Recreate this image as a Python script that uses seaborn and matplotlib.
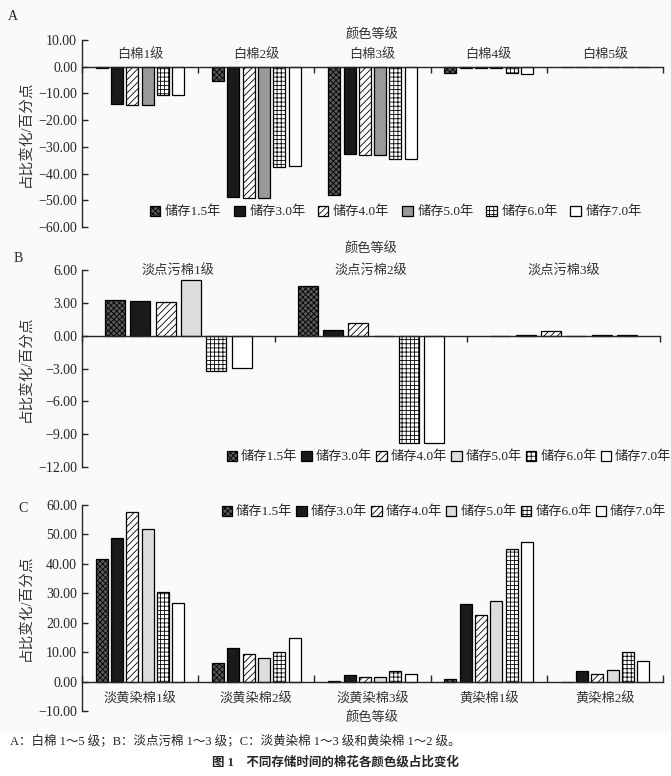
import pandas as pd
import matplotlib
matplotlib.use("Agg")
import matplotlib.pyplot as plt
import matplotlib.ticker as mticker
from matplotlib.patches import Rectangle
import seaborn as sns

# 数据
years = ['储存1.5年', '储存3.0年', '储存4.0年', '储存5.0年', '储存6.0年', '储存7.0年']

white_grades = ['白棉1级', '白棉2级', '白棉3级', '白棉4级', '白棉5级']
# 每一行对应一个存储年限
white_vals = [
    [-0.5, -5.5, -48.0, -2.2, 0.0],
    [-14.1, -48.7, -32.6, -0.5, 0.0],
    [-14.4, -49.2, -33.2, -0.5, 0.0],
    [-14.2, -49.2, -33.2, -0.5, 0.0],
    [-10.5, -37.6, -34.7, -2.5, 0.0],
    [-10.5, -37.3, -34.7, -2.9, 0.0],
]

spot_grades = ['淡点污棉1级', '淡点污棉2级', '淡点污棉3级']
spot_vals = [
    [3.25, 4.53, 0.0],
    [3.18, 0.55, 0.02],
    [3.06, 1.19, 0.42],
    [5.08, 0.0, 0.0],
    [-3.27, -9.82, 0.10],
    [-2.94, -9.82, 0.06],
]

yellow_grades = ['淡黄染棉1级', '淡黄染棉2级', '淡黄染棉3级', '黄染棉1级', '黄染棉2级']
yellow_vals = [
    [41.7, 6.4, 0.1, 0.9, 0.0],
    [48.9, 11.5, 2.4, 26.4, 3.5],
    [57.5, 9.4, 1.4, 22.7, 2.6],
    [51.7, 8.1, 1.4, 27.4, 4.1],
    [30.3, 10.2, 3.7, 45.0, 10.1],
    [26.8, 14.9, 2.7, 47.5, 7.0],
]

W, H = 671, 776
plt.rcParams['hatch.linewidth'] = 0.6
plt.rcParams['axes.unicode_minus'] = True
sns.set_style("ticks")
plt.rcParams['font.family'] = ['Liberation Serif', 'Noto Sans CJK SC']


def to_df(grades, vals):
    rows = []
    for yi, yr in enumerate(years):
        for gi, g in enumerate(grades):
            rows.append({'grade': g, 'year': yr, 'value': vals[yi][gi]})
    return pd.DataFrame(rows)


def fmt(v, pos):
    return f"{v:.2f}".replace('-', '\u2212')


def draw(ax, grades, vals, mid_gray):
    df = to_df(grades, vals)
    sns.barplot(data=df, x='grade', y='value', hue='year', order=grades,
                hue_order=years, width=0.79, gap=0.21, errorbar=None,
                edgecolor='black', linewidth=0.9, legend=False, ax=ax)
    styles = [('#5a5a5a', 'xxxxxx'), ('#1a1a1a', ''), ('white', '/////'),
              (mid_gray, ''), ('white', '++++'), ('white', '')]
    for cont, (fc, hatch) in zip(ax.containers, styles):
        for p in cont:
            p.set_facecolor(fc)
            p.set_hatch(hatch)
            p.set_edgecolor('black')
    n = len(grades)
    ax.set_xlim(-0.5, n - 0.5)
    ax.set_xticks([i - 0.5 for i in range(n + 1)])
    ax.set_xticklabels([])
    ax.spines['bottom'].set_position(('data', 0))
    ax.spines['bottom'].set_linewidth(1.0)
    ax.spines['left'].set_linewidth(1.0)
    sns.despine(ax=ax)
    ax.yaxis.set_major_formatter(mticker.FuncFormatter(fmt))
    ax.tick_params(axis='y', direction='in', length=4, labelsize=10, width=1)
    ax.set_xlabel('')
    ax.set_ylabel('占比变化/百分点', fontsize=10.5, color='#333333', labelpad=4)
    ax.set_facecolor('none')


fig = plt.figure(figsize=(W / 100, H / 100), dpi=100, facecolor='#fafafa')
fig.patches.append(Rectangle((0, 0), 1, 1 - 732 / H, transform=fig.transFigure,
                             facecolor='white', edgecolor='none', zorder=0))

# A
axA = fig.add_axes([82 / W, 1 - 227 / H, 581 / W, 187 / H])
draw(axA, white_grades, white_vals, '#999999')
axA.set_ylim(-60, 10)
axA.set_yticks(range(-60, 11, 10))
axA.tick_params(axis='x', direction='out', length=4, width=1)
for i, g in enumerate(white_grades):
    axA.text(i, 0.92, g, transform=axA.get_xaxis_transform(), ha='center',
             va='center', fontsize=9.5, color='#333333')
axA.text(2, 1.03, '颜色等级', transform=axA.get_xaxis_transform(), ha='center',
         va='center', fontsize=9.5, color='#333333')
axA.legend(handles=list(axA.containers), labels=years, ncol=6, loc='center',
           bbox_to_anchor=(0.54, 0.08), frameon=False, fontsize=9.5,
           handlelength=0.8, handleheight=0.8, handletextpad=0.35,
           columnspacing=0.95, borderpad=0)

# B
axB = fig.add_axes([82 / W, 1 - 467 / H, 578 / W, 197 / H])
draw(axB, spot_grades, spot_vals, '#dddddd')
axB.set_ylim(-12, 6)
axB.set_yticks(range(-12, 7, 3))
axB.tick_params(axis='x', direction='out', length=4, width=1)
for i, g in enumerate(spot_grades):
    axB.text(i, 0.995, g, transform=axB.get_xaxis_transform(), ha='center',
             va='center', fontsize=9.5, color='#333333')
axB.text(1, 1.11, '颜色等级', transform=axB.get_xaxis_transform(), ha='center',
         va='center', fontsize=9.5, color='#333333')
axB.legend(handles=list(axB.containers), labels=years, ncol=6, loc='center',
           bbox_to_anchor=(0.635, 0.05), frameon=False, fontsize=9.5,
           handlelength=0.8, handleheight=0.8, handletextpad=0.3,
           columnspacing=0.3, borderpad=0)

# C
axC = fig.add_axes([82 / W, 1 - 711 / H, 581 / W, 206 / H])
draw(axC, yellow_grades, yellow_vals, '#dddddd')
axC.set_ylim(-10, 60)
axC.set_yticks(range(-10, 61, 10))
axC.tick_params(axis='x', which='major', direction='in', length=5, width=1)
axC.set_xticks(range(len(yellow_grades)), minor=True)
axC.set_xticklabels(yellow_grades, minor=True, fontsize=9.5, color='#333333')
axC.tick_params(axis='x', which='minor', length=0, pad=8)
axC.text(2, -0.03, '颜色等级', transform=axC.get_xaxis_transform(), ha='center',
         va='center', fontsize=9.5, color='#333333')
axC.legend(handles=list(axC.containers), labels=years, ncol=6, loc='center',
           bbox_to_anchor=(0.623, 0.966), frameon=False, fontsize=9.5,
           handlelength=0.8, handleheight=0.8, handletextpad=0.3,
           columnspacing=0.3, borderpad=0)

fig.text(13 / W, 1 - 17 / H, 'A', fontsize=10, ha='center', va='center')
fig.text(18 / W, 1 - 259 / H, 'B', fontsize=10, ha='center', va='center')
fig.text(23 / W, 1 - 508 / H, 'C', fontsize=10, ha='center', va='center')

fig.text(10 / W, 1 - 741 / H,
         'A：白棉 1～5 级；B：淡点污棉 1～3 级；C：淡黄染棉 1～3 级和黄染棉 1～2 级。',
         fontsize=9, ha='left', va='center')
fig.text(0.5, 1 - 762 / H, '图 1　不同存储时间的棉花各颜色级占比变化',
         fontsize=9, ha='center', va='center', fontweight='bold')

fig.savefig('out.png', dpi=100, facecolor=fig.get_facecolor())
